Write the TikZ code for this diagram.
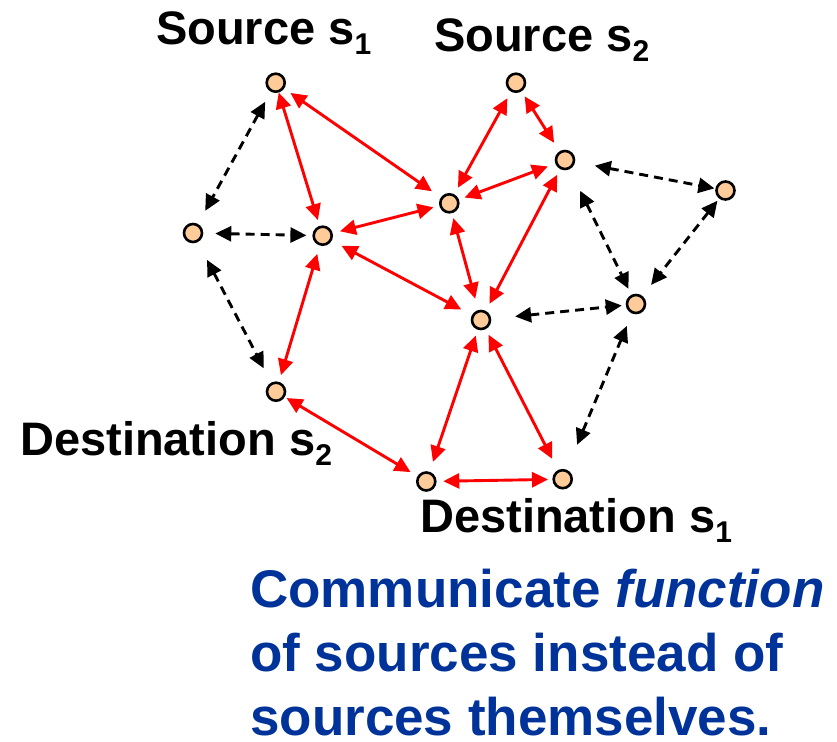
\documentclass[tikz,border=0pt]{standalone}
\usepackage{fontspec}
\setmainfont{Liberation Sans}
\usetikzlibrary{arrows.meta}
\definecolor{nodefill}{HTML}{FFCC99}
\definecolor{textblue}{HTML}{003399}
\newcommand{\mysub}[1]{\raisebox{-10pt}{\fontsize{30}{30}\selectfont #1}}
\begin{document}
\begin{tikzpicture}[x=1pt,y=-1pt,
  nd/.style={circle,draw=black,fill=nodefill,line width=2.6pt,minimum size=18pt,inner sep=0pt},
  tipsty/.style={{Triangle[length=16pt,width=15pt]}-{Triangle[length=16pt,width=15pt]}},
  redge/.style={draw=red,line width=2.9pt,tipsty},
  dedge/.style={draw=black,line width=2.9pt,dash pattern=on 9pt off 6pt,tipsty},
  lbl/.style={anchor=base west,inner sep=0pt,font=\fontsize{47}{47}\selectfont\bfseries},
  blu/.style={anchor=base west,inner sep=0pt,text=textblue,font=\fontsize{53}{53}\selectfont\bfseries}]
\useasboundingbox (0,0) rectangle (837,741);

% nodes
\node[nd] (A) at (275.7,82.7) {};
\node[nd] (B) at (516,82.7) {};
\node[nd] (C) at (565,160) {};
\node[nd] (D) at (725.5,190.5) {};
\node[nd] (E) at (449.3,203.3) {};
\node[nd] (F) at (193,233) {};
\node[nd] (G) at (322.7,235.7) {};
\node[nd] (H) at (636,304) {};
\node[nd] (I) at (481,320) {};
\node[nd] (J) at (276,391.7) {};
\node[nd] (K) at (426.3,481.5) {};
\node[nd] (L) at (562.7,479.2) {};

% labels
\node[lbl] (ls1) at (156,45) {Source s\mysub{1}};
\node[lbl] (ls2) at (434,52) {Source s\mysub{2}};
\node[lbl] (ld2) at (20,455) {Destination s\mysub{2}};
\node[lbl] (ld1) at (420,532) {Destination s\mysub{1}};

\node[blu] (t1) at (250,607) {Communicate \textit{function}};
\node[blu] (t2) at (250,671) {of sources instead of};
\node[blu] (t3) at (250,735) {sources themselves.};

% red edges
\draw[redge,shorten <=0pt,shorten >=6pt] (A) -- (G);
\draw[redge,shorten <=7.6pt,shorten >=10.8pt] (A) -- (E);
\draw[redge,shorten <=6pt,shorten >=7.5pt] (E) -- (G);
\draw[redge,shorten <=5pt,shorten >=11.7pt] (E) -- (I);
\draw[redge,shorten <=7.4pt,shorten >=7.5pt] (B) -- (E);
\draw[redge,shorten <=5.8pt,shorten >=10pt] (B) -- (C);
\draw[redge,shorten <=8pt,shorten >=6pt] (C) -- (E);
\draw[redge,shorten <=6.4pt,shorten >=8pt] (C) -- (I);
\draw[redge,shorten <=8.6pt,shorten >=7pt] (G) -- (J);
\draw[redge,shorten <=11pt,shorten >=12pt] (G) -- (I);
\draw[redge,shorten <=2pt,shorten >=8pt] (J) -- (K);
\draw[redge,shorten <=6pt,shorten >=10.4pt] (I) -- (K);
\draw[redge,shorten <=6.3pt,shorten >=12.5pt] (I) -- (L);
\draw[redge,shorten <=6.7pt,shorten >=4.4pt] (K) -- (L);

% dashed edges
\draw[dedge,shorten <=11.5pt,shorten >=15pt] (A) -- (F);
\draw[dedge,shorten <=12pt,shorten >=6pt] (F) -- (G);
\draw[dedge,shorten <=20pt,shorten >=16pt] (F) -- (J);
\draw[dedge,shorten <=20pt,shorten >=1pt] (C) -- (D);
\draw[dedge,shorten <=24pt,shorten >=6.6pt] (C) -- (H);
\draw[dedge,shorten <=2.7pt,shorten >=14pt] (D) -- (H);
\draw[dedge,shorten <=24pt,shorten >=4pt] (I) -- (H);
\draw[dedge,shorten <=27pt,shorten >=13.5pt] (L) -- (H);
\end{tikzpicture}
\end{document}
